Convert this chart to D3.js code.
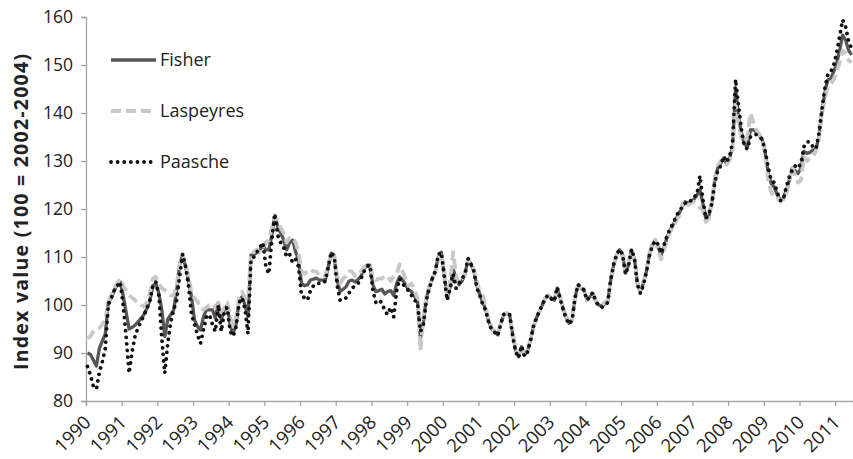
<!DOCTYPE html>
<html>
<head>
<meta charset="utf-8">
<script src="https://cdn.jsdelivr.net/npm/d3@7"></script>
<style>
  body { margin: 0; background: #fff; }
  svg text { font-family: "Open Sans", "Liberation Sans", sans-serif; fill: #222; }
</style>
</head>
<body>
<script>

let width = 853,
    height = 459;

// monthly index values, Jan 1990 .. Jun 2011 (one row per year)
let fisher = [
  90, 89.7, 88.5, 87.3, 91, 92.5, 94, 100.5, 101.5, 103, 104.2, 104.8,
  102, 98.5, 95, 95.3, 95.8, 96.5, 97.2, 98, 99.3, 101, 104, 104.5,
  102.5, 99, 93.4, 97, 98, 99, 103, 108.5, 110.4, 108, 105, 101.7,
  96.9, 95.5, 94.8, 97.5, 99, 99, 99, 97.3, 100.4, 96.9, 99, 100,
  95.8, 94.1, 96, 101, 101.7, 100, 97.6, 110.4, 110.5, 111, 111.5, 112.5,
  111.5, 111.5, 114.5, 118.7, 116.3, 115, 113.5, 111.5, 113, 113.5, 111.1, 109.4,
  104.5, 104, 104.2, 105.2, 105.4, 105.6, 105.2, 105.2, 105.2, 108, 110.8, 110,
  105.2, 102.8, 103.3, 103.8, 105, 105.2, 104.8, 105.3, 106, 107.5, 108.3, 108.3,
  104.2, 102.8, 103, 103.3, 102.3, 102.8, 103, 102, 104.5, 105.9, 105.2, 104.2,
  103.2, 102.8, 101.8, 100.8, 93, 96.5, 101.5, 103.8, 105.5, 107, 110, 111,
  106.5, 101.4, 103.8, 107.5, 105.5, 104.2, 105, 106.5, 109.5, 108.5, 107, 104,
  102.2, 100.5, 99, 96.5, 95, 94.4, 93.8, 96, 98, 98.3, 97.9, 94,
  90.6, 89.2, 91.3, 89.6, 90.3, 92.7, 95.5, 97.2, 98.6, 100, 101.5, 102,
  101.4, 101, 103.5, 101.4, 99.3, 97.5, 96.2, 96.9, 101.5, 104.2, 103.5, 103.1,
  101, 101.7, 102.4, 100.8, 100, 99.7, 100.2, 100.7, 105.2, 108.3, 110.5, 111.5,
  110.4, 106.6, 108.5, 111.5, 109.5, 104.5, 102.8, 104.5, 107, 110.5, 112.5, 113.5,
  112, 110.4, 112.2, 114.2, 115.6, 116.7, 118, 119.1, 120.5, 121.5, 121.3, 121.5,
  122, 122.9, 124, 121.2, 118, 118.5, 121.2, 126, 128.5, 129.5, 130.6, 129.5,
  130.6, 133, 145, 139, 135.8, 133.5, 133, 136.5, 136.5, 136, 135.4, 134.4,
  131.6, 127.4, 125.3, 124.6, 123, 121.9, 122.2, 123.8, 125.8, 128.5, 128, 127.4,
  128.5, 132, 131.6, 131.8, 132.3, 132.3, 135, 140, 144.1, 146.9, 147.2, 148.6,
  150.3, 153, 156.2, 155.2, 153.1, 152.1
];

let laspeyres = [
  93, 93.5, 94.5, 95, 95.2, 96, 97, 100.5, 102, 103.5, 104.5, 105.5,
  104, 103, 102, 101.5, 101, 100.5, 100, 99.7, 100.5, 102.5, 105.5, 105.9,
  104.5, 103.5, 103.1, 102.5, 102, 102, 104, 108.5, 110.6, 108.5, 106, 102.5,
  101.5, 100.7, 99.5, 99, 99.5, 100, 100.3, 99.5, 100.5, 98.5, 99.5, 100.5,
  97.5, 95.5, 97.5, 101.5, 102.7, 101.5, 101, 111, 111, 111.5, 111, 112,
  113, 113.5, 116, 118.5, 117.5, 116, 115, 113, 114, 114, 113, 111,
  107, 106.5, 107, 107.5, 107, 107, 106, 106, 106, 108.5, 111, 110.5,
  106, 104.5, 105.5, 106, 107, 107, 106, 106.5, 107, 107.8, 108.5, 108.3,
  106, 105.2, 105.5, 105.5, 106, 106, 105, 106, 106.5, 108.5, 107, 105.5,
  104, 104.5, 103, 101.5, 90.5, 97.5, 102, 104, 105.5, 107, 109.5, 111,
  107, 102, 105, 111, 106, 104.5, 105.5, 106.5, 109.5, 108.5, 107.5, 105,
  102.5, 102, 99.5, 97, 95.3, 94.5, 94, 96, 98, 98.3, 97.6, 94.5,
  91, 89.5, 91, 90, 90.5, 93, 95.5, 97, 98.5, 100, 101.5, 102,
  101.5, 101.2, 103, 101.5, 99.5, 97.8, 96.5, 97, 101.5, 104, 103.5, 103,
  101, 101.5, 102, 100.8, 100.2, 100, 100.5, 101, 105, 108, 110.5, 111.3,
  110, 106.8, 108.7, 111.3, 109.3, 104.8, 103.2, 104.8, 107.3, 110.8, 112.8, 113.6,
  111.2, 109.5, 111.5, 113.8, 115.2, 116.3, 117.5, 118.5, 120.8, 121.8, 120.8, 121.2,
  121.5, 121, 120.3, 119.8, 117.3, 118, 121.5, 126.5, 129, 130, 130.3, 129.2,
  130.2, 132, 142, 138, 134.5, 134, 135, 140, 138, 136.5, 135.5, 134,
  131, 126, 123.5, 122.5, 122.5, 121.5, 122, 123, 125.5, 129, 127, 125.5,
  126, 131, 130, 130.5, 131, 132, 134.5, 139.5, 143, 145.5, 146, 147,
  148.5, 150.5, 153, 152.5, 151, 150.5
];

let paasche = [
  87.2, 85.4, 83, 82.5, 86, 88.2, 91, 100, 101.5, 103, 104, 104.8,
  100, 93.4, 85.8, 90.3, 93.5, 95.2, 96.5, 97.9, 99.3, 101, 104, 104.8,
  102, 93, 85.8, 92, 96.5, 99, 101, 106, 110.6, 108, 104, 98,
  96, 93.8, 92, 94.8, 97.5, 98, 96, 94.5, 100, 94.5, 98.5, 99.5,
  94.5, 93.5, 95.5, 100.5, 101.5, 99, 94, 109.5, 110, 111, 112, 113,
  108, 106.5, 113.5, 119, 114.5, 113, 112, 110, 110.5, 108.8, 109.5, 108,
  102, 101.5, 101, 103, 104, 104.5, 104.5, 104.5, 105, 108, 111, 110,
  104, 101, 101, 101.5, 102.5, 103.5, 104, 104.5, 105.5, 107, 108, 108.3,
  103, 100.5, 101, 100.5, 98.8, 98, 99.5, 97.5, 103, 105.5, 104.5, 103.5,
  103, 102, 101, 100.5, 94.5, 96, 101, 103.5, 105.5, 107, 110.5, 111,
  106, 101, 103.5, 106.5, 103.5, 104.5, 105.5, 106.5, 109.7, 108.5, 107, 103.5,
  102, 100, 98.8, 96.2, 94.8, 94.3, 93.6, 96, 98, 98.3, 98, 93.6,
  90.3, 89, 91.5, 89.3, 90.2, 92.5, 95.5, 97.3, 98.7, 100, 101.5, 102,
  101.3, 100.8, 103.7, 101.3, 99, 97.2, 96, 96.8, 101.5, 104.3, 103.5, 103.2,
  101, 101.8, 102.6, 100.7, 99.8, 99.5, 100, 100.5, 105.3, 108.5, 110.5, 111.6,
  110.6, 106.4, 108.3, 111.6, 109.6, 104.2, 102.4, 104.2, 106.8, 110.2, 112.3, 113.4,
  112.6, 110.8, 112.6, 114.5, 115.9, 117, 118.4, 119.6, 120.3, 121.2, 121.8, 121.7,
  122.5, 123, 126.9, 122, 118, 119, 121, 125.5, 128, 129, 131, 129.8,
  131, 134, 147, 141.5, 136.5, 133, 132.5, 135, 135.5, 135.5, 135, 134.5,
  132, 128.5, 126, 125.5, 123.5, 121.8, 121.8, 124.5, 126.5, 128, 129, 128.5,
  129.5, 133, 134, 134, 133, 132.5, 135.5, 140.5, 145, 148, 148.5, 150,
  152.5, 156, 159.4, 158, 155, 153.5
];

let years = d3.range(1990, 2012);
let yTicks = [80, 90, 100, 110, 120, 130, 140, 150, 160];

let series = [
  {name: "Fisher", values: fisher, color: "#595556", dash: null, width: 3.3, cap: "butt"},
  {name: "Laspeyres", values: laspeyres, color: "#cbc7c7", dash: "10,5", width: 3.8, cap: "butt"},
  {name: "Paasche", values: paasche, color: "#111111", dash: "0.01,6.6", width: 3.8, cap: "round"}
];

let margin = {left: 86, top: 17, right: 0, bottom: 58};

let svg = d3.select("body").append("svg")
    .attr("width", width)
    .attr("height", height);

// category axis: each month takes one slot, point sits in the middle
let x = d3.scaleLinear()
    .domain([0, fisher.length])
    .range([margin.left, width - margin.right]);

let y = d3.scaleLinear()
    .domain([80, 160])
    .range([height - margin.bottom, margin.top]);

let axisColor = "#a8a4a4";

// y axis
let yAxis = svg.append("g")
    .attr("transform", "translate(" + margin.left + ",0)")
    .call(d3.axisLeft(y).tickValues(yTicks).tickSize(5).tickPadding(8));
yAxis.select(".domain").attr("stroke", axisColor).attr("stroke-width", 1.3);
yAxis.selectAll(".tick line").attr("stroke", axisColor).attr("stroke-width", 1.3);
yAxis.selectAll("text")
    .style("font-size", "17.5px")
    .attr("fill", "#222");

// x axis, labels turned 45 degrees and ending at their tick
let xAxis = svg.append("g")
    .attr("transform", "translate(0," + y(80) + ")")
    .call(d3.axisBottom(x)
      .tickValues(years.map((d, i) => i * 12))
      .tickSize(5)
      .tickFormat((d, i) => years[i]));
xAxis.select(".domain").attr("stroke", axisColor).attr("stroke-width", 1.3);
xAxis.selectAll(".tick line").attr("stroke", axisColor).attr("stroke-width", 1.3);
xAxis.selectAll("text")
    .style("font-size", "18.5px")
    .attr("fill", "#222")
    .attr("text-anchor", "end")
    .attr("x", 0)
    .attr("y", 0)
    .attr("dy", "0.35em")
    .attr("transform", "translate(1,18) rotate(-45)");

// y axis title
svg.append("text")
    .attr("transform", "translate(28,212) rotate(-90)")
    .attr("text-anchor", "middle")
    .attr("textLength", 316)
    .attr("lengthAdjust", "spacing")
    .style("font-size", "19.5px")
    .style("font-weight", "bold")
    .text("Index value (100 = 2002-2004)");

let line = d3.line()
    .x((d, i) => x(i + 0.5))
    .y(d => y(d));

series.forEach(function(s) {
  svg.append("path")
    .datum(s.values)
    .attr("fill", "none")
    .attr("stroke", s.color)
    .attr("stroke-width", s.width)
    .attr("stroke-dasharray", s.dash)
    .attr("stroke-linecap", s.cap)
    .attr("stroke-linejoin", "round")
    .attr("d", line);
});

// legend
let legend = svg.append("g").attr("transform", "translate(111,60)");
series.forEach(function(s, i) {
  let row = legend.append("g").attr("transform", "translate(0," + i * 51 + ")");
  row.append("line")
    .attr("x1", 0).attr("x2", 45)
    .attr("stroke", s.color)
    .attr("stroke-width", s.width)
    .attr("stroke-dasharray", s.dash)
    .attr("stroke-linecap", s.cap);
  row.append("text")
    .attr("x", 49)
    .attr("dy", "0.35em")
    .style("font-size", "18px")
    .text(s.name);
});

</script>
</body>
</html>
